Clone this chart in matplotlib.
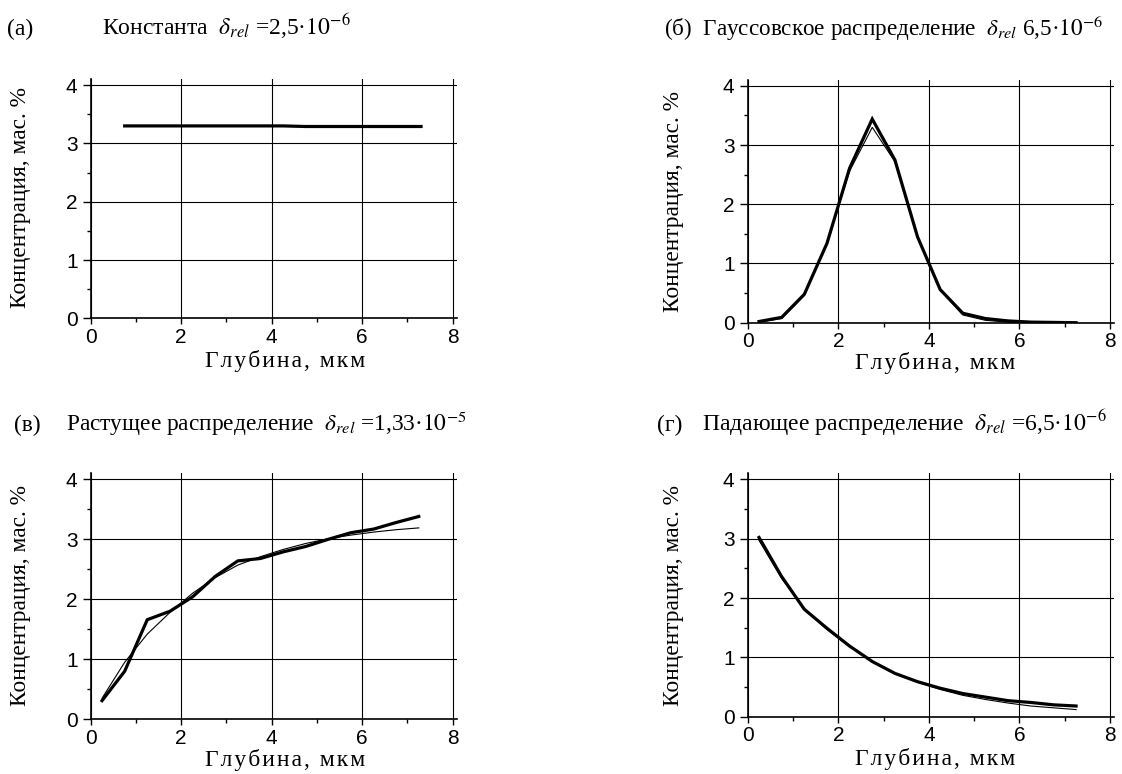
import matplotlib
matplotlib.use("Agg")
import matplotlib.pyplot as plt
from matplotlib.ticker import MultipleLocator

plt.rcParams['mathtext.fontset'] = 'stix'

# ---- data ----
depth = [0.25, 0.75, 1.25, 1.75, 2.25, 2.75, 3.25, 3.75, 4.25, 4.75, 5.25, 5.75, 6.25, 6.75, 7.25]

const_x = [0.75, 1.25, 1.75, 2.25, 2.75, 3.25, 3.75, 4.25, 4.75, 5.25, 5.75, 6.25, 6.75, 7.25, 7.3]
const_thick = [3.30, 3.30, 3.30, 3.30, 3.30, 3.30, 3.30, 3.30, 3.29, 3.29, 3.29, 3.29, 3.29, 3.29, 3.29]
const_thin = [3.30, 3.30, 3.30, 3.30, 3.30, 3.30, 3.30, 3.30, 3.29, 3.29, 3.29, 3.29, 3.29, 3.29, 3.29]

gauss_thick = [0.02, 0.09, 0.48, 1.34, 2.61, 3.44, 2.75, 1.45, 0.56, 0.16, 0.07, 0.03, 0.01, 0.005, 0.0]
gauss_thin = [0.01, 0.07, 0.46, 1.35, 2.56, 3.30, 2.72, 1.45, 0.55, 0.13, 0.04, 0.01, 0.0, 0.0, 0.0]

grow_thick = [0.31, 0.80, 1.66, 1.80, 2.04, 2.38, 2.64, 2.68, 2.79, 2.88, 3.00, 3.11, 3.17, 3.28, 3.38]
grow_thin = [0.35, 0.95, 1.42, 1.78, 2.10, 2.36, 2.57, 2.71, 2.83, 2.93, 3.01, 3.07, 3.12, 3.16, 3.19]

fall_thick = [3.02, 2.36, 1.81, 1.49, 1.19, 0.93, 0.73, 0.59, 0.48, 0.39, 0.33, 0.27, 0.24, 0.20, 0.18]
fall_thin = [2.97, 2.33, 1.82, 1.47, 1.18, 0.93, 0.73, 0.58, 0.46, 0.36, 0.29, 0.23, 0.18, 0.15, 0.12]

xlabel_text = "Глубина, мкм"
ylabel_text = "Концентрация, мас. %"

W, H = 1122, 774
fig = plt.figure(figsize=(W / 100, H / 100), dpi=100)

SERIF = ['Liberation Serif', 'DejaVu Serif']
SANS = ['Liberation Sans', 'DejaVu Sans']

def px_axes(left, y0, xper, yper):
    w = 8.09 * xper
    h = 4.1 * yper
    return fig.add_axes([left / W, (H - y0) / H, w / W, h / H])

panels = [
    dict(rect=(90.7, 318.3, 45.25, 58.3), x=const_x, thick=const_thick, thin=const_thin,
         ylab=(21, 197), xlab=(285, 367)),
    dict(rect=(747.7, 322.7, 45.29, 59.2), x=depth, thick=gauss_thick, thin=gauss_thin,
         ylab=(674, 201), xlab=(935, 369)),
    dict(rect=(90.7, 719.3, 45.25, 60.0), x=depth, thick=grow_thick, thin=grow_thin,
         ylab=(21, 596), xlab=(285, 766)),
    dict(rect=(747.7, 716.7, 45.29, 59.35), x=depth, thick=fall_thick, thin=fall_thin,
         ylab=(674, 595), xlab=(935, 765)),
]

spaced_x = "\u200a".join(list(xlabel_text))

for p in panels:
    ax = px_axes(*p['rect'])
    ax.plot(p['x'], p['thin'], color='black', lw=0.8, zorder=3)
    ax.plot(p['x'], p['thick'], color='black', lw=2.3, zorder=4, solid_joinstyle='miter')
    ax.set_xlim(0, 8.09)
    ax.set_ylim(0, 4.1)
    ax.xaxis.set_minor_locator(MultipleLocator(1))
    ax.yaxis.set_minor_locator(MultipleLocator(0.5))
    ax.set_xticks([0, 2, 4, 6, 8])
    ax.set_yticks([0, 1, 2, 3, 4])
    ax.grid(True, which='major', color='black', lw=0.8)
    ax.set_axisbelow(True)
    for s in ['top', 'right']:
        ax.spines[s].set_visible(False)
    for s in ['left', 'bottom']:
        ax.spines[s].set_linewidth(1.2)
        ax.spines[s].set_zorder(5)
    ax.tick_params(axis='y', which='major', direction='out', length=6, width=1.0, pad=3.5)
    ax.tick_params(axis='x', which='major', direction='out', length=4, width=1.0, pad=3.0)
    ax.tick_params(which='minor', direction='out', length=2.8, width=1.0)
    for lab in ax.get_xticklabels() + ax.get_yticklabels():
        lab.set_family(SANS)
        lab.set_fontsize(15)
    fig.text(p['ylab'][0] / W, 1 - p['ylab'][1] / H, ylabel_text, rotation=90,
             ha='center', va='center', family=SERIF, fontsize=16.8)
    fig.text(p['xlab'][0] / W, 1 - p['xlab'][1] / H, spaced_x,
             ha='center', va='baseline', family=SERIF, fontsize=17)

def ftext(xp, yp, s, size=17.0):
    fig.text(xp / W, 1 - yp / H, s, ha='left', va='baseline', family=SERIF, fontsize=size)

ftext(7, 35, "(a)", 17)
ftext(102, 35, r"Константа  $\delta_{rel}$ =2,5·$10^{-6}$", 17)
ftext(664, 36, r"(б)  Гауссовское распределение  $\delta_{rel}$ 6,5·$10^{-6}$", 16.7)
ftext(14, 431, r"(в)", 16.8)
ftext(66, 431, r"Растущее распределение  $\delta_{rel}$ =1,33·$10^{-5}$", 16.8)
ftext(657, 431, r"(г)", 17)
ftext(702, 431, r"Падающее распределение  $\delta_{rel}$ =6,5·$10^{-6}$", 17)

fig.savefig("out.png", dpi=100)
